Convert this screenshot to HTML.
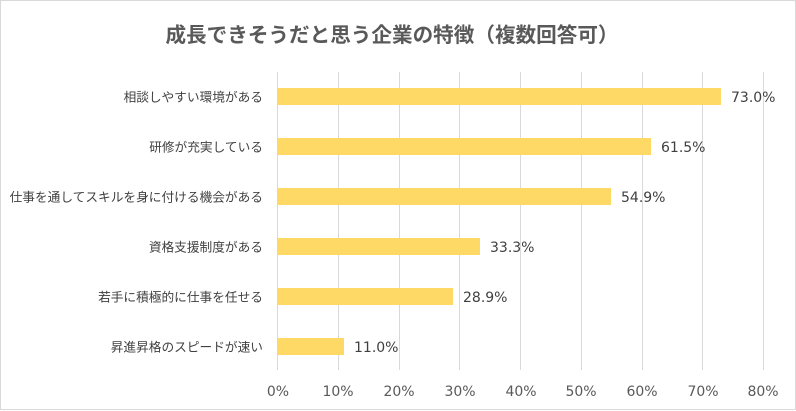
<!DOCTYPE html>
<html><head><meta charset="utf-8"><style>
html,body{margin:0;padding:0;background:#fff;}
svg{display:block;}
</style></head><body>
<svg width="796" height="411" viewBox="0 0 796 411" xmlns="http://www.w3.org/2000/svg">
<rect x="0.5" y="0.5" width="795" height="409" fill="#fff" stroke="#d9d9d9" stroke-width="1"/>
<text x="392" y="42" text-anchor="middle" font-family="'Liberation Sans','Noto Sans CJK JP',sans-serif" font-size="20.6" font-weight="bold" fill="#595959">成長できそうだと思う企業の特徴（複数回答可）</text>
<g stroke="#d9d9d9" stroke-width="1">
<line x1="277.5" y1="72" x2="277.5" y2="370"/>
<line x1="338.5" y1="72" x2="338.5" y2="370"/>
<line x1="399.5" y1="72" x2="399.5" y2="370"/>
<line x1="459.5" y1="72" x2="459.5" y2="370"/>
<line x1="520.5" y1="72" x2="520.5" y2="370"/>
<line x1="581.5" y1="72" x2="581.5" y2="370"/>
<line x1="642.5" y1="72" x2="642.5" y2="370"/>
<line x1="702.5" y1="72" x2="702.5" y2="370"/>
<line x1="763.5" y1="72" x2="763.5" y2="370"/>
</g>
<g fill="#ffd966">
<rect x="277" y="88" width="444" height="17"/>
<rect x="277" y="138" width="374" height="17"/>
<rect x="277" y="188" width="334" height="17"/>
<rect x="277" y="238" width="203" height="17"/>
<rect x="277" y="288" width="176" height="17"/>
<rect x="277" y="338" width="67" height="17"/>
</g>
<g font-family="'Liberation Sans','Noto Sans CJK JP',sans-serif" font-size="12.7" fill="#404040" text-anchor="end">
<text x="263" y="101.5">相談しやすい環境がある</text>
<text x="263" y="151.5">研修が充実している</text>
<text x="263" y="201.5">仕事を通してスキルを身に付ける機会がある</text>
<text x="263" y="251.5">資格支援制度がある</text>
<text x="263" y="301.5">若手に積極的に仕事を任せる</text>
<text x="263" y="351.5">昇進昇格のスピードが速い</text>
</g>
<g font-family="'DejaVu Sans','Liberation Sans',sans-serif" font-size="14" fill="#404040">
<text x="731" y="102">73.0%</text>
<text x="661" y="152">61.5%</text>
<text x="621" y="202">54.9%</text>
<text x="490" y="252">33.3%</text>
<text x="463" y="302">28.9%</text>
<text x="354" y="352">11.0%</text>
</g>
<g font-family="'DejaVu Sans','Liberation Sans',sans-serif" font-size="14" fill="#595959" text-anchor="middle">
<text x="278" y="396">0%</text>
<text x="338" y="396">10%</text>
<text x="399" y="396">20%</text>
<text x="460" y="396">30%</text>
<text x="521" y="396">40%</text>
<text x="581" y="396">50%</text>
<text x="642" y="396">60%</text>
<text x="703" y="396">70%</text>
<text x="763" y="396">80%</text>
</g>
</svg>
</body></html>
